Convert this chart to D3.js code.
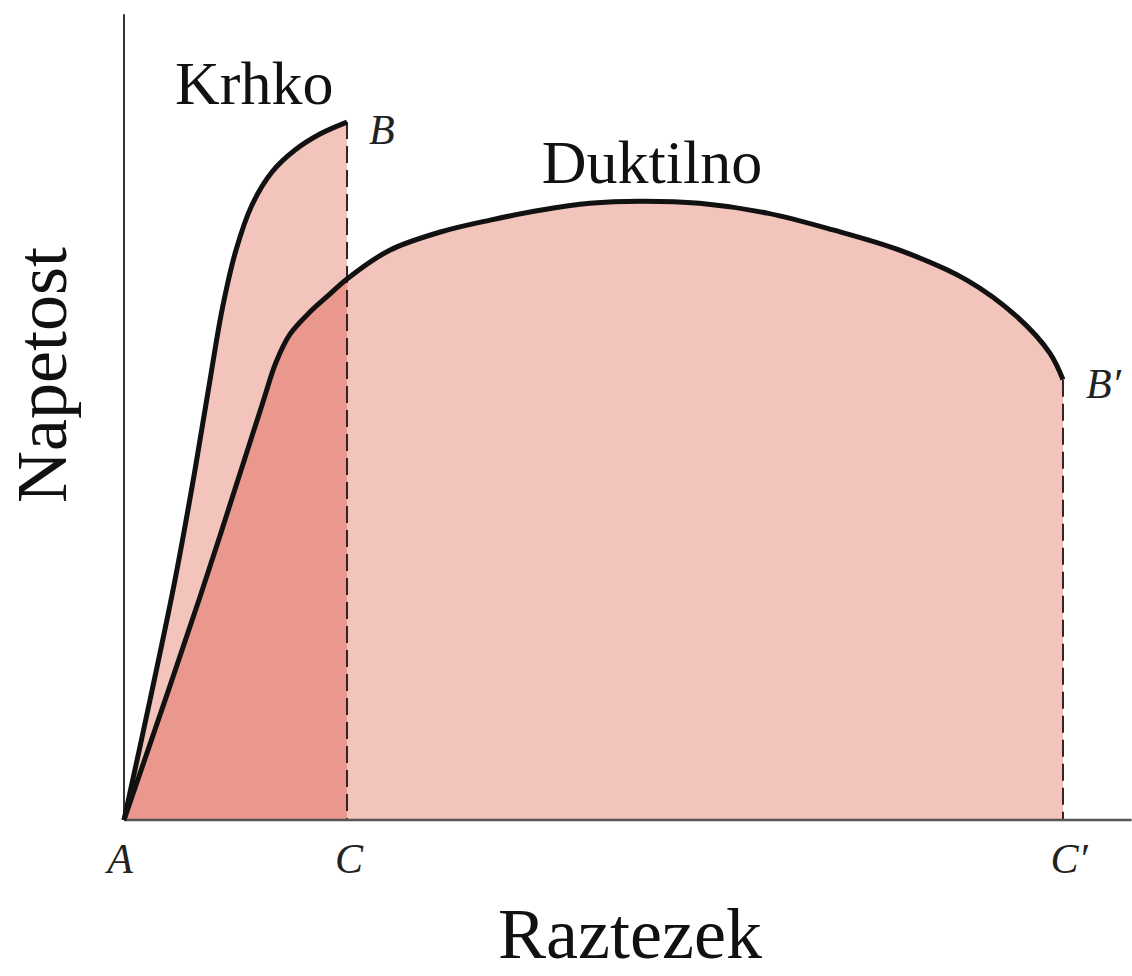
<!DOCTYPE html>
<html>
<head>
<meta charset="utf-8">
<script src="https://cdn.jsdelivr.net/npm/d3@7"></script>
<style>
  body { margin: 0; background: #fff; }
  text { font-family: "Liberation Serif", "DejaVu Serif", serif; fill: #111; }
  .pt { font-style: italic; font-size: 42px; fill: #222; }
</style>
</head>
<body>
<div id="chart"></div>
<script>
var w = 1132;
var h = 976;

// strain (x) / stress (y), normalised
var brittleX = [0, 0.0277, 0.0543, 0.0756, 0.0916, 0.1044, 0.1193, 0.1363, 0.1576, 0.1821, 0.2087, 0.2375];
var brittleY = [0, 0.1714, 0.3429, 0.500, 0.6286, 0.7286, 0.8143, 0.8786, 0.9257, 0.9571, 0.980, 0.997];

var ductileX = [0, 0.0809, 0.147, 0.1619, 0.1768, 0.196, 0.2173, 0.2375, 0.283, 0.337, 0.390, 0.443, 0.496,
                0.550, 0.613, 0.685, 0.755, 0.826, 0.898, 0.951, 0.986, 1.0];
var ductileY = [0, 0.3186, 0.593, 0.654, 0.694, 0.723, 0.749, 0.773, 0.814, 0.840, 0.857, 0.871, 0.881,
                0.884, 0.881, 0.867, 0.843, 0.814, 0.771, 0.719, 0.667, 0.629];

var curveNames = ["Krhko", "Duktilno"];
var xLabels = ["A", "C", "C\u2032"];
var endLabels = ["B", "B\u2032"];

var brittle = brittleX.map(function (d, i) { return { x: d, y: brittleY[i] }; });
var ductile = ductileX.map(function (d, i) { return { x: d, y: ductileY[i] }; });
var xC = brittleX[brittleX.length - 1];
var xC2 = ductileX[ductileX.length - 1];

var svg = d3.select("#chart").append("svg").attr("width", w).attr("height", h);

var xScale = d3.scaleLinear().domain([0, 1]).range([124, 1063]);
var yScale = d3.scaleLinear().domain([0, 1]).range([820, 120]);

var curve = d3.curveCatmullRom.alpha(0.5);

var area = d3.area()
    .curve(curve)
    .x(function (d) { return xScale(d.x); })
    .y0(function () { return yScale(0); })
    .y1(function (d) { return yScale(d.y); });

var line = d3.line()
    .curve(curve)
    .x(function (d) { return xScale(d.x); })
    .y(function (d) { return yScale(d.y); });

// clip for the overlapping part
svg.append("clipPath").attr("id", "overlap")
    .append("rect")
    .attr("x", xScale(0))
    .attr("y", 0)
    .attr("width", xScale(xC) - xScale(0))
    .attr("height", yScale(0));

// ****** filled areas ******
svg.append("path").datum(brittle).attr("d", area).attr("fill", "#f2c4bc");
svg.append("path").datum(ductile).attr("d", area).attr("fill", "#f2c4bc");
svg.append("path").datum(ductile).attr("d", area)
    .attr("fill", "#ea978d")
    .attr("clip-path", "url(#overlap)");

// ****** dashed drops ******
[[xC, brittleY[brittleY.length - 1]], [xC2, ductileY[ductileY.length - 1]]].forEach(function (p) {
    svg.append("line")
        .attr("x1", xScale(p[0])).attr("y1", yScale(p[1]))
        .attr("x2", xScale(p[0])).attr("y2", yScale(0))
        .attr("stroke", "#3a2222")
        .attr("stroke-width", 2)
        .attr("stroke-dasharray", "17,7");
});

// ****** axes ******
svg.append("line")
    .attr("x1", xScale(0)).attr("y1", yScale(0))
    .attr("x2", xScale(1.073)).attr("y2", yScale(0))
    .attr("stroke", "#555").attr("stroke-width", 2.5);

svg.append("line")
    .attr("x1", xScale(0)).attr("y1", yScale(0))
    .attr("x2", xScale(0)).attr("y2", yScale(1.151))
    .attr("stroke", "#333").attr("stroke-width", 2);

// ****** curves ******
svg.append("path").datum(brittle).attr("d", line)
    .attr("fill", "none").attr("stroke", "#111").attr("stroke-width", 5)
    .attr("stroke-linejoin", "round");
svg.append("path").datum(ductile).attr("d", line)
    .attr("fill", "none").attr("stroke", "#111").attr("stroke-width", 5)
    .attr("stroke-linejoin", "round");

// ****** labels ******
svg.append("text").attr("x", 175).attr("y", 104)
    .attr("font-size", 62).text(curveNames[0]);
svg.append("text").attr("x", 652).attr("y", 183)
    .attr("text-anchor", "middle")
    .attr("font-size", 62).text(curveNames[1]);

[0, xC, xC2].forEach(function (v, i) {
    svg.append("text").attr("class", "pt")
        .attr("x", xScale(v) + (i === 0 ? -4 : (i === 2 ? 6 : 2)))
        .attr("y", 873)
        .attr("text-anchor", "middle")
        .text(xLabels[i]);
});

svg.append("text").attr("class", "pt")
    .attr("x", xScale(xC) + 22).attr("y", yScale(brittleY[brittleY.length - 1]) + 22)
    .text(endLabels[0]);
svg.append("text").attr("class", "pt")
    .attr("x", xScale(xC2) + 23).attr("y", yScale(ductileY[ductileY.length - 1]) + 18)
    .text(endLabels[1]);

svg.append("text")
    .attr("x", 630).attr("y", 958)
    .attr("text-anchor", "middle")
    .attr("font-size", 72).text("Raztezek");

svg.append("text")
    .attr("transform", "translate(66,375) rotate(-90)")
    .attr("text-anchor", "middle")
    .attr("font-size", 72).text("Napetost");
</script>
</body>
</html>
